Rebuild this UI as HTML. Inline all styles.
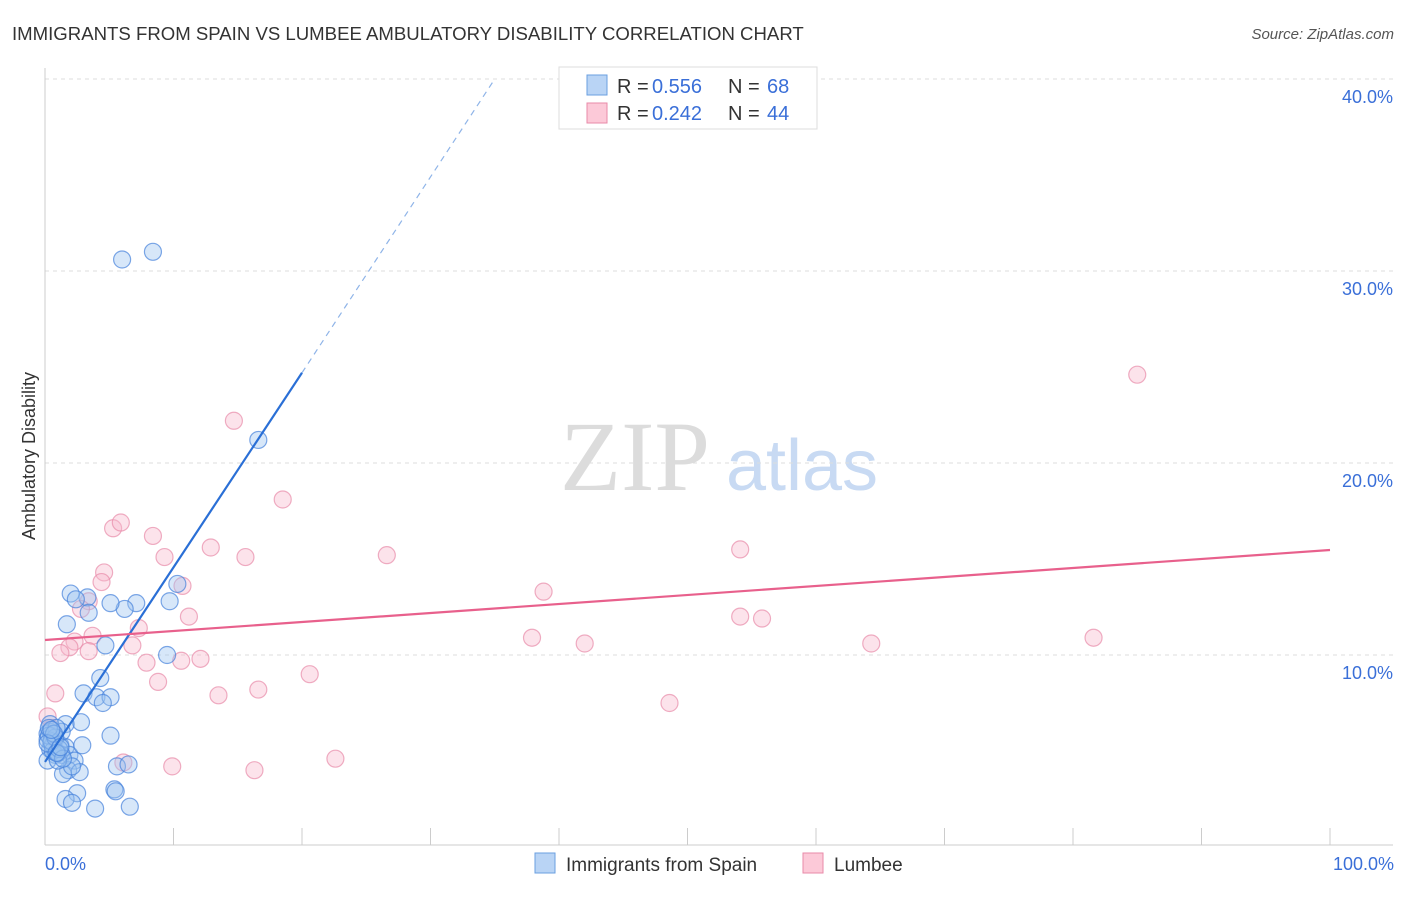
<!DOCTYPE html>
<html><head><meta charset="utf-8"><style>
body{margin:0;background:#fff;font-family:"Liberation Sans",sans-serif;}
</style></head><body>
<svg id="chart" width="1406" height="892" xmlns="http://www.w3.org/2000/svg" font-family="Liberation Sans, sans-serif">
<text x="12" y="40" font-size="18.6" fill="#333">IMMIGRANTS FROM SPAIN VS LUMBEE AMBULATORY DISABILITY CORRELATION CHART</text>
<text x="1394" y="39" font-size="15" fill="#555" font-style="italic" text-anchor="end">Source: ZipAtlas.com</text>
<text x="35" y="456" font-size="18" fill="#333" transform="rotate(-90 35 456)" text-anchor="middle">Ambulatory Disability</text>
<g><text x="635" y="490" font-size="100" fill="#dcdcdc" style="font-family:'Liberation Serif',serif" text-anchor="middle">ZIP</text><text x="802" y="490" font-size="72" fill="#c8daf3" text-anchor="middle">atlas</text></g>
<g id="grid"></g><g id="axes"></g><g id="pts"></g><g id="lines"></g>
<g>
<rect x="559" y="67" width="258" height="62" fill="#fff" stroke="#ddd"/>
<rect x="587" y="75" width="20" height="20" fill="#b9d4f5" stroke="#6a9fe0"/>
<rect x="587" y="103" width="20" height="20" fill="#fcc9d8" stroke="#e88aa8"/>
<text x="617" y="93" font-size="20" fill="#333">R =</text><text x="652" y="93" font-size="20" fill="#3a6fd8">0.556</text>
<text x="728" y="93" font-size="20" fill="#333">N =</text><text x="767" y="93" font-size="20" fill="#3a6fd8">68</text>
<text x="617" y="120" font-size="20" fill="#333">R =</text><text x="652" y="120" font-size="20" fill="#3a6fd8">0.242</text>
<text x="728" y="120" font-size="20" fill="#333">N =</text><text x="767" y="120" font-size="20" fill="#3a6fd8">44</text>
</g>
<g>
<rect x="535" y="853" width="20" height="20" fill="#b9d4f5" stroke="#6a9fe0"/>
<text x="566" y="871" font-size="19" fill="#333">Immigrants from Spain</text>
<rect x="803" y="853" width="20" height="20" fill="#fcc9d8" stroke="#e88aa8"/>
<text x="834" y="871" font-size="19" fill="#333">Lumbee</text>
</g>
<text x="45" y="870" font-size="18" fill="#3a6fd8">0.0%</text>
<text x="1394" y="870" font-size="18" fill="#3a6fd8" text-anchor="end">100.0%</text>
</svg>
<script>
const yTicks=[10,20,30,40];
const blueX=[6.0,8.4,16.6,10.3,9.7,7.1,6.2,5.1,3.3,2.0,2.4,3.4,1.7,4.7,9.5,4.3,3.0,4.0,5.1,4.5,5.1,2.8,1.6,0.4,0.2,0.8,1.2,1.6,1.9,1.3,0.5,2.9,2.3,1.8,2.7,1.4,2.1,5.6,6.5,5.4,5.5,2.5,1.6,2.1,3.9,6.6,0.4,0.8,0.2,1.0,1.3,0.4,0.9,0.2,0.6,0.3,0.6,1.0,0.5,0.8,0.3,1.1,1.4,0.7,0.2,0.9,1.2,0.5];
const blueY=[30.6,31.0,21.2,13.7,12.8,12.7,12.4,12.7,13.0,13.2,12.9,12.2,11.6,10.5,10.0,8.8,8.0,7.8,7.8,7.5,5.8,6.5,6.4,6.4,5.9,5.6,5.3,5.2,4.8,4.8,5.4,5.3,4.5,4.0,3.9,3.8,4.2,4.2,4.3,3.0,2.9,2.8,2.5,2.3,2.0,2.1,5.1,4.8,4.5,4.5,6.0,6.0,6.2,5.6,5.3,5.8,5.0,4.9,5.5,5.7,6.2,5.1,4.6,5.9,5.4,4.9,5.2,6.1];
const pinkX=[85.0,14.7,18.5,5.3,5.9,8.4,9.3,12.9,15.6,26.6,54.1,38.8,10.7,4.6,4.4,3.4,2.8,7.3,11.2,37.9,54.1,55.8,42.0,64.3,81.6,3.7,2.3,1.9,1.2,3.4,6.8,7.9,10.6,12.1,8.8,20.6,0.8,13.5,16.6,48.6,6.1,9.9,16.3,22.6,0.2,0.5];
const pinkY=[24.6,22.2,18.1,16.6,16.9,16.2,15.1,15.6,15.1,15.2,15.5,13.3,13.6,14.3,13.8,12.8,12.4,11.4,12.0,10.9,12.0,11.9,10.6,10.6,10.9,11.0,10.7,10.4,10.1,10.2,10.5,9.6,9.7,9.8,8.6,9.0,8.0,7.9,8.2,7.5,4.4,4.2,4.0,4.6,6.8,6.2];
const blueFit=[[0,4.43],[20,24.7]], blueDash=[[20,24.7],[35,40.0]];
const pinkFit=[[0,10.78],[100,15.47]];
const X=v=>45+v*12.85, Y=v=>847-v*19.2;
const NS='http://www.w3.org/2000/svg';
function mk(t,a,p){const e=document.createElementNS(NS,t);for(const k in a)e.setAttribute(k,a[k]);p.appendChild(e);return e;}
const grid=document.getElementById('grid'),axes=document.getElementById('axes'),pts=document.getElementById('pts'),lines=document.getElementById('lines');
yTicks.forEach(t=>{const l=mk('line',{x1:45,x2:1393,y1:Y(t),y2:Y(t),stroke:'#ddd','stroke-dasharray':'4,4'},grid);


const tx=mk('text',{x:1393,y:Y(t)+24,'font-size':18,fill:'#3a6fd8','text-anchor':'end'},grid);tx.textContent=t.toFixed(1)+'%';

});
const ax=mk('line',{x1:45,x2:1393,y1:845,y2:845,stroke:'#ccc'},axes);


const ay=mk('line',{x1:45,x2:45,y1:68,y2:845,stroke:'#ccc'},axes);


for(let i=1;i<=10;i++){const tk=mk('line',{x1:X(i*10),x2:X(i*10),y1:828,y2:845,stroke:'#ccc'},axes);

}
pinkX.forEach((v,i)=>{const c=mk('circle',{cx:X(v),cy:Y(pinkY[i]),r:8.5,fill:'rgba(248,185,205,0.4)',stroke:'rgba(232,140,170,0.7)','stroke-width':1.2},pts);

});
blueX.forEach((v,i)=>{const c=mk('circle',{cx:X(v),cy:Y(blueY[i]),r:8.5,fill:'rgba(155,195,240,0.4)',stroke:'rgba(70,130,220,0.7)','stroke-width':1.2},pts);

});
const b=mk('line',{x1:X(blueFit[0][0]),y1:Y(blueFit[0][1]),x2:X(blueFit[1][0]),y2:Y(blueFit[1][1]),stroke:'#2a6fd6','stroke-width':2.2},lines);


const bd=mk('line',{x1:X(blueDash[0][0]),y1:Y(blueDash[0][1]),x2:X(blueDash[1][0]),y2:Y(blueDash[1][1]),stroke:'#8fb4e8','stroke-width':1.2,'stroke-dasharray':'6,5'},lines);


const p=mk('line',{x1:X(pinkFit[0][0]),y1:Y(pinkFit[0][1]),x2:X(pinkFit[1][0]),y2:Y(pinkFit[1][1]),stroke:'#e8608c','stroke-width':2.2},lines);


</script>
</body></html>
